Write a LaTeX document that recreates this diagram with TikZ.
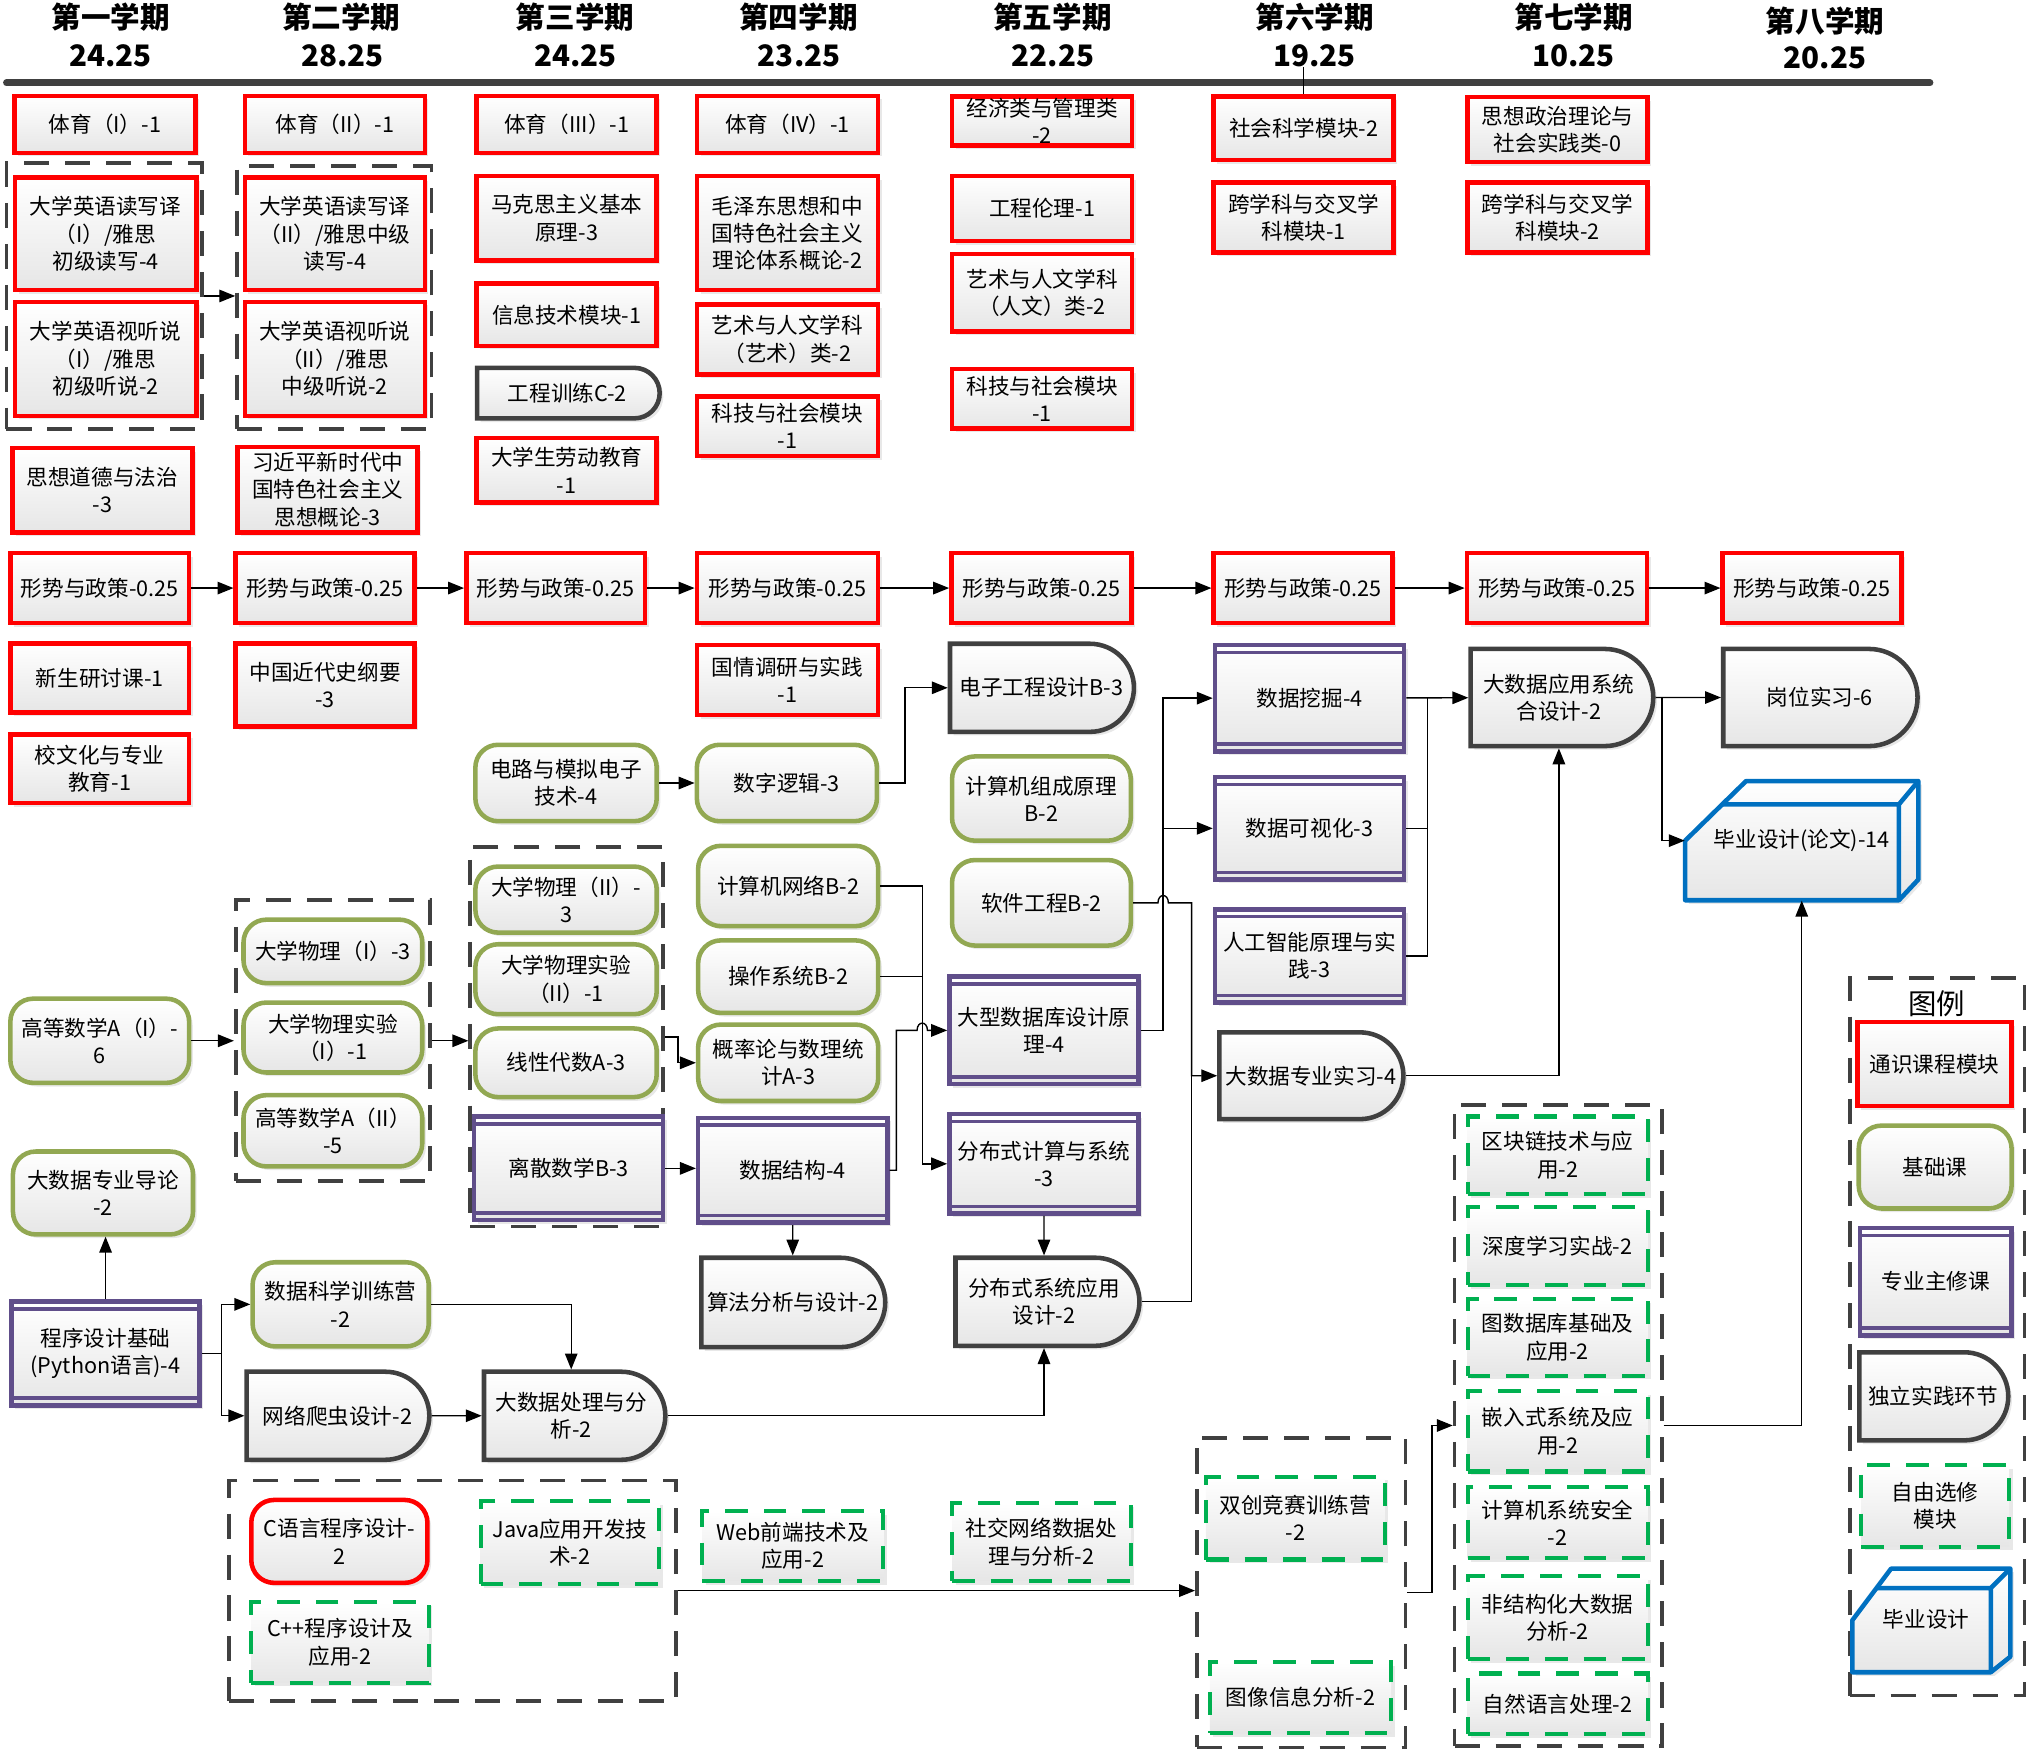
\documentclass[tikz,border=0pt]{standalone}
\usepackage{fontspec}
\setmainfont{Noto Sans CJK SC}
\usepackage{tikz}
\usetikzlibrary{arrows.meta,shapes.misc,shadows}
\definecolor{redc}{RGB}{255,0,0}
\definecolor{olivec}{RGB}{146,168,82}
\definecolor{purplec}{RGB}{96,78,138}
\definecolor{darkc}{RGB}{64,64,64}
\definecolor{greenc}{RGB}{0,176,80}
\definecolor{bluec}{RGB}{0,112,192}
\definecolor{shadec}{RGB}{230,230,230}

\begin{document}
\begin{tikzpicture}[x=0.02cm, y=-0.02cm,
  every node/.style={font=\fontsize{9.5}{12}\selectfont, align=center, inner sep=0pt},
  sz/.style 2 args={minimum width=#1*0.02cm, minimum height=#2*0.02cm},
  card/.style={top color=white, bottom color=shadec, line width=2pt,
    drop shadow={shadow xshift=1.6pt, shadow yshift=-1.6pt, fill=black!30, opacity=0.3}},
  gen/.style={card, rectangle, draw=redc},
  genr/.style={card, rectangle, rounded corners=10pt, draw=redc},
  base/.style={card, rectangle, rounded corners=10pt, draw=olivec},
  major/.style={card, rectangle, draw=purplec,
    path picture={\draw[purplec, line width=1.5pt]
      ([yshift=-3.2pt]path picture bounding box.north west) -- ([yshift=-3.2pt]path picture bounding box.north east)
      ([yshift=3.2pt]path picture bounding box.south west) -- ([yshift=3.2pt]path picture bounding box.south east);}},
  prac/.style={card, rounded rectangle, rounded rectangle west arc=none, draw=darkc},
  elec/.style={card, rectangle, draw=greenc, line width=1.8pt, dash pattern=on 10pt off 7pt},
  grp/.style={rectangle, draw=darkc, line width=1.6pt, dash pattern=on 11pt off 7pt},
  link/.style={line width=0.6pt, -{Triangle[length=7pt, width=5.5pt]}},
  wire/.style={line width=0.6pt},
  term/.style={font=\fontsize{13}{15}\selectfont\bfseries}]
\useasboundingbox (0,0) rectangle (1568,1355);

% semesters
\node[term] (t1) at (85.5,13.5) {第一学期};
\node[term] (n1) at (85.5,43) {24.25};
\node[term] (t2) at (263.5,13.5) {第二学期};
\node[term] (n2) at (264.5,43) {28.25};
\node[term] (t3) at (444,13.5) {第三学期};
\node[term] (n3) at (444.5,43) {24.25};
\node[term] (t4) at (616.5,13.5) {第四学期};
\node[term] (n4) at (617,43) {23.25};
\node[term] (t5) at (812.5,13.5) {第五学期};
\node[term] (n5) at (813,43) {22.25};
\node[term] (t6) at (1015,13.5) {第六学期};
\node[term] (n6) at (1015,43) {19.25};
\node[term] (t7) at (1215,13.5) {第七学期};
\node[term] (n7) at (1215,43) {10.25};
\node[term] (t8) at (1409,16) {第八学期};
\node[term] (n8) at (1409,44.5) {20.25};
\draw[darkc, line width=3pt, line cap=round] (5,64) -- (1490,64);

% semester 1
\node[gen, sz={140}{44}] (pe1) at (81,96) {体育（I）-1};
\node[grp, sz={151}{205}] (eng1) at (80.5,228.5) {};
\node[gen, sz={140}{87}] (rw1) at (81.5,180.5) {大学英语读写译\\（I）/雅思\\初级读写-4};
\node[gen, sz={140}{88}] (ls1) at (81.5,277) {大学英语视听说\\（I）/雅思\\初级听说-2};
\node[gen, sz={139}{65}] (moral) at (79,378.5) {思想道德与法治\\-3};
\node[gen, sz={138}{54}] (sp1) at (77,454) {形势与政策-0.25};
\node[gen, sz={138}{53}] (fresh) at (77,523.5) {新生研讨课-1};
\node[gen, sz={138}{53}] (cult) at (77,593.5) {校文化与专业\\教育-1};
\node[base, sz={138}{65}] (math1) at (77,803.5) {高等数学A（I）-\\6};
\node[base, sz={139}{64}] (intro) at (79.5,921) {大数据专业导论\\-2};
\node[major, sz={145}{80}] (prog) at (81.5,1045) {程序设计基础\\(Python语言)-4};

% semester 2
\node[gen, sz={139}{44}] (pe2) at (258.5,96) {体育（II）-1};
\node[grp, sz={150}{203}] (eng2) at (258,229.5) {};
\node[gen, sz={139}{87}] (rw2) at (258.5,180.5) {大学英语读写译\\（II）/雅思中级\\读写-4};
\node[gen, sz={139}{88}] (ls2) at (258.5,277) {大学英语视听说\\（II）/雅思\\中级听说-2};
\node[gen, sz={139}{66}] (xi) at (253,378) {习近平新时代中\\国特色社会主义\\思想概论-3};
\node[gen, sz={138}{54}] (sp2) at (251,454) {形势与政策-0.25};
\node[gen, sz={138}{64}] (modern) at (251,529) {中国近代史纲要\\-3};
\node[grp, sz={150}{217}] (phyg1) at (257,803.5) {};
\node[base, sz={138}{49}] (phy1) at (257,734.5) {大学物理（I）-3};
\node[base, sz={138}{54}] (lab1) at (257,801) {大学物理实验\\（I）-1};
\node[base, sz={138}{55}] (math2) at (257,873) {高等数学A（II）\\-5};
\node[base, sz={136}{65}] (camp) at (263,1007) {数据科学训练营\\-2};
\node[prac, sz={141}{68}] (crawl) at (260.5,1093) {网络爬虫设计-2};
\node[grp, sz={345}{170}] (elect) at (349.5,1228) {};
\node[genr, sz={136}{64}] (clang) at (262,1190) {C语言程序设计-\\2};
\node[elec, sz={137}{62}] (cpp) at (262.5,1268) {C++程序设计及\\应用-2};
\node[elec, sz={138}{64}] (java) at (440,1191) {Java应用开发技\\术-2};

% semester 3
\node[gen, sz={139}{44}] (pe3) at (437.5,96) {体育（III）-1};
\node[gen, sz={139}{65}] (marx) at (437.5,168.5) {马克思主义基本\\原理-3};
\node[gen, sz={139}{48}] (info) at (437.5,243) {信息技术模块-1};
\node[prac, sz={141}{39}] (train) at (438,303.5) {工程训练C-2};
\node[gen, sz={139}{50}] (labor) at (437.5,363) {大学生劳动教育\\-1};
\node[gen, sz={138}{54}] (sp3) at (429,454) {形势与政策-0.25};
\node[base, sz={140}{59}] (circ) at (437,604.5) {电路与模拟电子\\技术-4};
\node[grp, sz={149}{293}] (phyg2) at (437.5,800.5) {};
\node[base, sz={140}{51}] (phy2) at (437,694.5) {大学物理（II）-\\3};
\node[base, sz={140}{54}] (lab2) at (437,756) {大学物理实验\\（II）-1};
\node[base, sz={140}{53}] (linalg) at (437,820.5) {线性代数A-3};
\node[major, sz={146}{80}] (disc) at (439,902) {离散数学B-3};
\node[prac, sz={140}{68}] (bdp) at (441,1093) {大数据处理与分\\析-2};

% semester 4
\node[gen, sz={140}{44}] (pe4) at (608,96) {体育（IV）-1};
\node[gen, sz={140}{88}] (mao) at (608,180) {毛泽东思想和中\\国特色社会主义\\理论体系概论-2};
\node[gen, sz={140}{54}] (art4) at (608,262) {艺术与人文学科\\（艺术）类-2};
\node[gen, sz={140}{46}] (sci4) at (608,329) {科技与社会模块\\-1};
\node[gen, sz={140}{54}] (sp4) at (608,454) {形势与政策-0.25};
\node[gen, sz={140}{54}] (survey) at (608,525) {国情调研与实践\\-1};
\node[base, sz={139}{59}] (logic) at (607.5,604.5) {数字逻辑-3};
\node[base, sz={139}{62}] (net) at (608.5,684) {计算机网络B-2};
\node[base, sz={139}{56}] (os) at (608.5,754) {操作系统B-2};
\node[base, sz={139}{59}] (prob) at (608.5,820.5) {概率论与数理统\\计A-3};
\node[major, sz={146}{81}] (ds) at (612,903.5) {数据结构-4};
\node[prac, sz={142}{69}] (algo) at (612,1005.5) {算法分析与设计-2};
\node[elec, sz={140}{54}] (web) at (612,1193.5) {Web前端技术及\\应用-2};

% semester 5
\node[gen, sz={139}{38}] (econ) at (804.5,93.5) {经济类与管理类\\-2};
\node[gen, sz={139}{50}] (ethic) at (804.5,161) {工程伦理-1};
\node[gen, sz={139}{60}] (art5) at (804.5,226) {艺术与人文学科\\（人文）类-2};
\node[gen, sz={139}{46}] (sci5) at (804.5,308) {科技与社会模块\\-1};
\node[gen, sz={139}{54}] (sp5) at (804,454) {形势与政策-0.25};
\node[prac, sz={142}{68}] (eedes) at (804,531) {电子工程设计B-3};
\node[base, sz={138}{65}] (org) at (804,616.5) {计算机组成原理\\B-2};
\node[base, sz={138}{66}] (se) at (804,697) {软件工程B-2};
\node[major, sz={146}{83}] (db) at (806,795.5) {大型数据库设计原\\理-4};
\node[major, sz={146}{77}] (dc) at (806,898.5) {分布式计算与系统\\-3};
\node[prac, sz={142}{68}] (dsa) at (806,1005) {分布式系统应用\\设计-2};
\node[elec, sz={138}{60}] (social) at (804,1190.5) {社交网络数据处\\理与分析-2};

% semester 6
\node[gen, sz={139}{49}] (soc) at (1006.5,99) {社会科学模块-2};
\node[gen, sz={139}{54}] (cross1) at (1006.5,168) {跨学科与交叉学\\科模块-1};
\node[gen, sz={138}{54}] (sp6) at (1006,454) {形势与政策-0.25};
\node[major, sz={146}{82}] (mine) at (1011,539) {数据挖掘-4};
\node[major, sz={146}{79}] (vis) at (1011,639.5) {数据可视化-3};
\node[major, sz={146}{72}] (ai) at (1011,738) {人工智能原理与实\\践-3};
\node[prac, sz={142}{67}] (intern) at (1012,830.5) {大数据专业实习-4};
\node[grp, sz={161}{239}] (g6) at (1004.5,1229.5) {};
\node[elec, sz={138}{64}] (twin) at (1000,1172) {双创竞赛训练营\\-2};
\node[elec, sz={140}{55}] (img) at (1004,1310.5) {图像信息分析-2};

% semester 7
\node[gen, sz={139}{50}] (pol) at (1202.5,100) {思想政治理论与\\社会实践类-0};
\node[gen, sz={139}{54}] (cross2) at (1202.5,168) {跨学科与交叉学\\科模块-2};
\node[gen, sz={139}{54}] (sp7) at (1202,454) {形势与政策-0.25};
\node[prac, sz={141}{75}] (bigapp) at (1203.5,538.5) {大数据应用系统\\合设计-2};
\node[grp, sz={160}{495}] (g7) at (1203,1100.5) {};
\node[elec, sz={139}{60}] (chain) at (1202.5,892) {区块链技术与应\\用-2};
\node[elec, sz={139}{60}] (deep) at (1202.5,962) {深度学习实战-2};
\node[elec, sz={139}{59}] (gdb) at (1202.5,1032.5) {图数据库基础及\\应用-2};
\node[elec, sz={139}{62}] (emb) at (1202.5,1105) {嵌入式系统及应\\用-2};
\node[elec, sz={139}{55}] (sec) at (1202.5,1175.5) {计算机系统安全\\-2};
\node[elec, sz={139}{64}] (unst) at (1202.5,1249) {非结构化大数据\\分析-2};
\node[elec, sz={139}{47}] (nlp) at (1202.5,1315.5) {自然语言处理-2};

% semester 8
\node[gen, sz={138}{54}] (sp8) at (1399,454) {形势与政策-0.25};
\node[prac, sz={150}{75}] (job) at (1405,538.5) {岗位实习-6};
\draw[bluec, line width=2pt, line join=round, top color=white, bottom color=shadec,
  drop shadow={shadow xshift=1.6pt, shadow yshift=-1.6pt, fill=black!30, opacity=0.3}]
  (1301,649) -- (1348,603) -- (1481,603) -- (1481,679) -- (1466,695) -- (1301,695) -- cycle;
\draw[bluec, line width=2pt, line join=round] (1330,621) -- (1466,621) -- (1481,603) (1466,621) -- (1466,695);
\node[sz={180}{92}] (thesis) at (1391,649) {毕业设计(论文)-14};

% legend
\node[grp, sz={135}{554}] (leg) at (1495.5,1032) {};
\node[font=\fontsize{12.5}{14}\selectfont] (legt) at (1495,775) {图例};
\node[gen, sz={119}{65}] (k1) at (1493.5,821.5) {通识课程模块};
\node[base, sz={118}{64}] (k2) at (1494,901) {基础课};
\node[major, sz={117}{83}] (k3) at (1494.5,989.5) {专业主修课};
\node[prac, sz={115}{68}] (k4) at (1492.5,1078) {独立实践环节};
\node[elec, sz={114}{63}] (k5) at (1494,1162.5) {自由选修\\模块};
\draw[bluec, line width=2pt, line join=round, top color=white, bottom color=shadec,
  drop shadow={shadow xshift=1.6pt, shadow yshift=-1.6pt, fill=black!30, opacity=0.3}]
  (1430,1251) -- (1460,1211) -- (1552,1211) -- (1552,1279) -- (1537,1291) -- (1430,1291) -- cycle;
\draw[bluec, line width=2pt, line join=round] (1449,1226) -- (1537,1226) -- (1552,1211) (1537,1226) -- (1537,1291);
\node (k6) at (1487,1250) {毕业设计};

% connectors
\draw[wire] (soc.north) -- (soc.north |- n6.south);
\draw[link] (sp1) -- (sp2);
\draw[link] (sp2) -- (sp3);
\draw[link] (sp3) -- (sp4);
\draw[link] (sp4) -- (sp5);
\draw[link] (sp5) -- (sp6);
\draw[link] (sp6) -- (sp7);
\draw[link] (sp7) -- (sp8);
\draw[link] (eng1.east) -- (eng2.west |- eng1.east);
\draw[link] (math1) -- (phyg1);
\draw[link] (phyg1.east) -- (phyg2.west |- phyg1.east);
\draw[link] (phyg2.east) -- ++(10,0) |- (prob.west);
\draw[link] (disc.east) -- (ds.west |- disc.east);
\draw[link] (ds) -- (algo);
\draw[link] (circ) -- (logic);
\draw[link] (logic.east) -- ++(20,0) |- (eedes.west);
\draw[link] (net.east) -- (712,684) |- (dc.west);
\draw[wire] (os.east) -- (712,754);
\draw[link] (ds.east) -- (692,903.5) -- (692,795.5) -- (708,795.5)
  .. controls (708,788) and (716,788) .. (716,795.5) -- (db.west);
\draw[link] (dc) -- (dsa);
\draw[link] (bdp.east) -| (dsa.south);
\draw[link] (camp.east) -| (bdp.north);
\draw[link] (crawl) -- (bdp);
\coordinate (progfork) at (171,1045);
\draw[wire] (prog.east) -- (progfork);
\draw[link] (progfork) |- (camp.west);
\draw[link] (progfork) |- (crawl.west);
\draw[link] (prog.north) -- (intro.south -| prog.north);
\coordinate (dbfork) at (898,639.5);
\draw[link] (db.east) -- (898,795.5) |- (mine.west);
\draw[link] (dbfork) -- (vis.west);
\coordinate (intjoin) at (920,830.5);
\draw[link] (se.east) -- (894,697) .. controls (894,689.5) and (902,689.5) .. (902,697)
  -- (920,697) |- (intern.west);
\draw[wire] (dsa.east) -| (intjoin);
\draw[link] (mine) -- (bigapp);
\coordinate (bus) at (1102,539);
\draw[wire] (vis.east) -| (bus);
\draw[wire] (ai.east) -| (bus);
\draw[link] (bigapp) -- (job);
\coordinate (appfork) at (1283,538.5);
\draw[link] (appfork) |- (thesis.west);
\draw[link] (intern.east) -| (bigapp.south);
\draw[link] (elect.east) -- (g6.west |- elect.east);
\draw[link] (g6.east) -- ++(19,0) |- (g7.west);
\draw[link] (g7.east) -| (thesis.south);
\end{tikzpicture}
\end{document}
